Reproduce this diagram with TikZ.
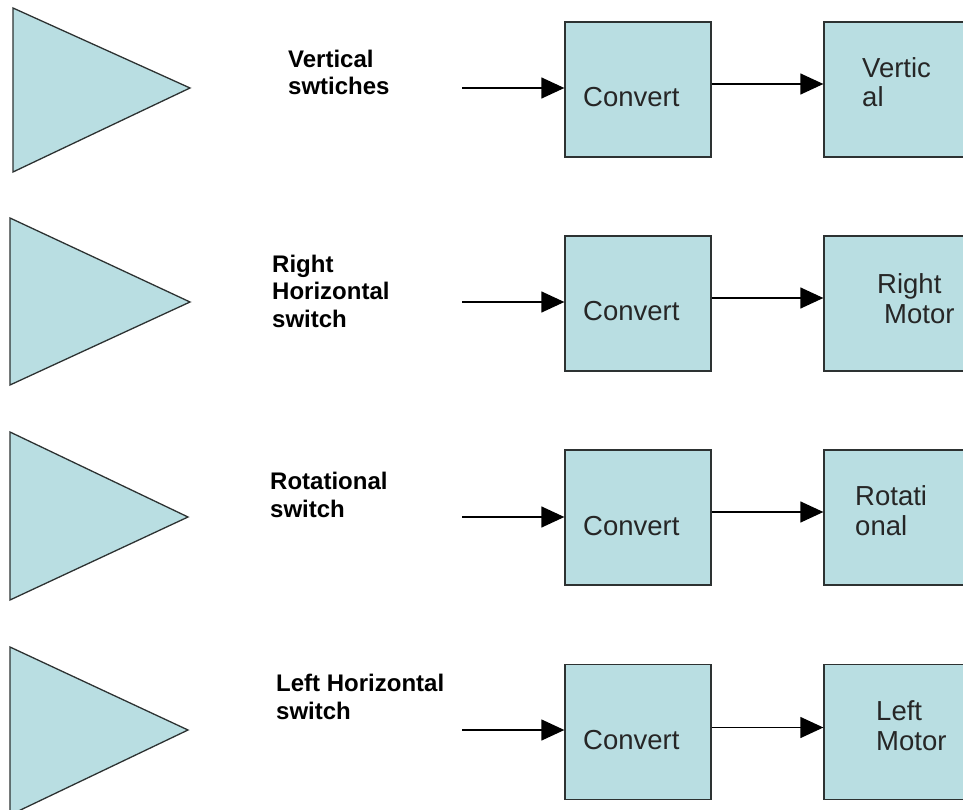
\documentclass[tikz,border=0pt]{standalone}
\usepackage{fontspec}
\setmainfont{Liberation Sans}
\usetikzlibrary{arrows.meta,calc}
\definecolor{boxfill}{RGB}{185,222,226}
\definecolor{edge}{RGB}{45,50,50}
\begin{document}
\begin{tikzpicture}[x=1pt,y=-1pt,
  blk/.style={draw=edge, line width=1.3pt, fill=boxfill, minimum width=146pt, minimum height=135pt, inner sep=0pt},
  motor/.style={draw=edge, line width=1.3pt, fill=boxfill, minimum width=160pt, minimum height=135pt, inner sep=0pt},
  tri/.style={draw=edge, line width=1.3pt, fill=boxfill, line join=miter},
  lbl/.style={font=\fontsize{24}{27.5}\selectfont\bfseries, align=left, anchor=base west, inner sep=0pt},
  btxt/.style={font=\fontsize{27.5}{29.5}\selectfont, align=left, anchor=base west, inner sep=0pt, text=black!85},
  arr/.style={-{Triangle[length=23pt,width=21pt]}, line width=1.3pt, black},
]
\useasboundingbox (0,0) rectangle (963,810);
\clip (0,0) rectangle (963,810);

% Row 1
\draw[tri] (13,8) -- (190,88) -- (13,172) -- cycle;
\node[lbl] (l1) at (288,95) {Vertical\\swtiches};
\coordinate (i1) at (462,88);
\node[blk] (c1) at (638,89.5) {};
\node[btxt] (ct1) at (583,107) {Convert};
\node[motor] (m1) at (904,89.5) {};
\node[btxt] (mt1) at (862,107) {Vertic\\al};
\draw[arr] (i1) -- (c1.west |- i1);
\draw[arr] ([yshift=5.5pt]c1.east) -- ([yshift=5.5pt]m1.west);

% Row 2
\draw[tri] (10,218) -- (190,302) -- (10,385) -- cycle;
\node[lbl] (l2) at (272,327) {Right\\Horizontal\\switch};
\coordinate (i2) at (462,302);
\node[blk] (c2) at (638,303.5) {};
\node[btxt] (ct2) at (583,320) {Convert};
\node[motor] (m2) at (904,303.5) {};
\node[btxt] (mt2) at (877,323) {Right\\\hspace*{7pt}Motor};
\draw[arr] (i2) -- (c2.west |- i2);
\draw[arr] ([yshift=5.5pt]c2.east) -- ([yshift=5.5pt]m2.west);

% Row 3
\draw[tri] (10,432) -- (188,517) -- (10,600) -- cycle;
\node[lbl] (l3) at (270,517) {Rotational\\switch};
\coordinate (i3) at (462,517);
\node[blk] (c3) at (638,517.5) {};
\node[btxt] (ct3) at (583,535) {Convert};
\node[motor] (m3) at (904,517.5) {};
\node[btxt] (mt3) at (855,535) {Rotati\\onal};
\draw[arr] (i3) -- (c3.west |- i3);
\draw[arr] ([yshift=5.5pt]c3.east) -- ([yshift=5.5pt]m3.west);

% Row 4
\draw[tri] (10,647) -- (188,730) -- (10,815) -- cycle;
\node[lbl] (l4) at (276,719) {Left Horizontal\\switch};
\coordinate (i4) at (462,730);
\node[blk] (c4) at (638,732) {};
\node[btxt] (ct4) at (583,749) {Convert};
\node[motor] (m4) at (904,732) {};
\node[btxt] (mt4) at (876,750) {Left\\Motor};
\draw[arr] (i4) -- (c4.west |- i4);
\draw[arr] ([yshift=4.5pt]c4.east) -- ([yshift=4.5pt]m4.west);
\end{tikzpicture}
\end{document}
